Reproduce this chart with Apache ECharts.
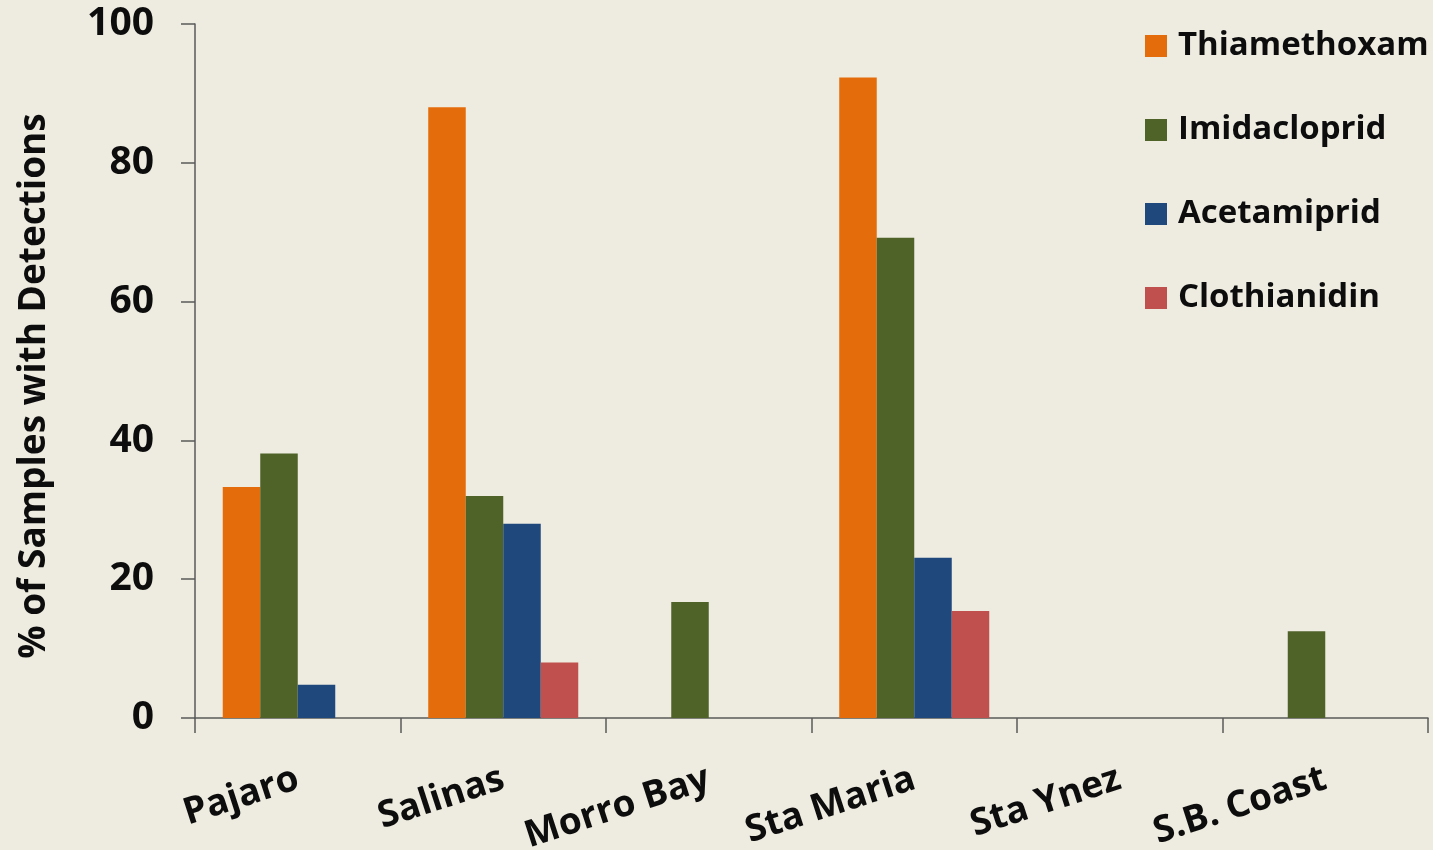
<!DOCTYPE html>
<html>
<head>
<meta charset="utf-8">
<script src="https://cdn.jsdelivr.net/npm/echarts@6/dist/echarts.min.js"></script>
<style>
  html, body { margin: 0; padding: 0; background: #EEECE1; }
  #chart { width: 1433px; height: 850px; }
</style>
</head>
<body>
<div id="chart"></div>
<script>
// Sampling regions along the coast
const regions = ['Pajaro', 'Salinas', 'Morro Bay', 'Sta Maria', 'Sta Ynez', 'S.B. Coast'];

// % of samples with detections, per compound
const thiamethoxam = [33.3, 88, 0, 92.3, 0, 0];
const imidacloprid = [38.1, 32, 16.7, 69.2, 0, 12.5];
const acetamiprid  = [4.8, 28, 0, 23.1, 0, 0];
const clothianidin = [0, 8, 0, 15.4, 0, 0];

const yTicks = [0, 20, 40, 60, 80, 100];

const FONT = '"Open Sans", "DejaVu Sans", sans-serif';
const INK = '#0d0d0d';
const AXIS = '#5a5a5a';

const seriesDefs = [
  { name: 'Thiamethoxam', data: thiamethoxam, color: '#E46C0A' },
  { name: 'Imidacloprid', data: imidacloprid, color: '#4F6228' },
  { name: 'Acetamiprid',  data: acetamiprid,  color: '#1F497D' },
  { name: 'Clothianidin', data: clothianidin, color: '#C0504D' }
];

const chart = echarts.init(document.getElementById('chart'), null, { renderer: 'canvas' });

chart.setOption({
  backgroundColor: '#EEECE1',
  animation: false,
  grid: {
    left: 195, right: 5, top: 24, bottom: 132,
    containLabel: false, outerBoundsMode: 'none'
  },
  legend: {
    orient: 'vertical',
    left: 1145,
    top: 26,
    padding: 0,
    icon: 'rect',
    itemWidth: 22,
    itemHeight: 22,
    itemGap: 44,
    textStyle: {
      fontFamily: FONT, fontWeight: 'bold', fontSize: 33, color: INK,
      lineHeight: 40, padding: [0, 0, 0, 6]
    },
    data: seriesDefs.map(s => s.name)
  },
  xAxis: {
    type: 'category',
    data: regions,
    boundaryGap: true,
    axisLine: { lineStyle: { color: AXIS, width: 1.5 } },
    axisTick: { show: true, length: 15, alignWithLabel: false, lineStyle: { color: AXIS, width: 1.5 } },
    axisLabel: {
      rotate: 18, margin: 60, interval: 0,
      fontFamily: FONT, fontWeight: 'bold', fontSize: 37, color: INK
    }
  },
  yAxis: {
    type: 'value',
    min: yTicks[0],
    max: yTicks[yTicks.length - 1],
    interval: yTicks[1] - yTicks[0],
    name: '% of Samples with Detections',
    nameLocation: 'middle',
    nameGap: 142,
    nameRotate: 90,
    nameTextStyle: {
      fontFamily: FONT, fontWeight: 'bold', fontSize: 37, color: INK,
      padding: [0, 30, 0, 0]
    },
    splitLine: { show: false },
    axisLine: { show: true, lineStyle: { color: AXIS, width: 1.5 } },
    axisTick: { show: true, length: 14, lineStyle: { color: AXIS, width: 1.5 } },
    axisLabel: {
      margin: 41,
      fontFamily: FONT, fontWeight: 'bold', fontSize: 39, color: INK
    }
  },
  series: seriesDefs.map(s => ({
    name: s.name,
    type: 'bar',
    data: s.data,
    barGap: '0%',
    barCategoryGap: '27%',
    itemStyle: { color: s.color }
  }))
});
</script>
</body>
</html>
